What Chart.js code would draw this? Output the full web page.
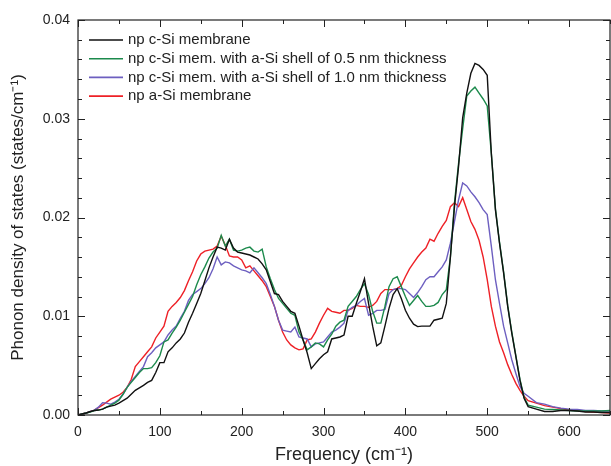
<!DOCTYPE html>
<html>
<head>
<meta charset="utf-8">
<script src="https://cdn.jsdelivr.net/npm/chart.js@4.4.1/dist/chart.umd.min.js"></script>
<style>
  html, body { margin: 0; padding: 0; background: #fff; }
  #wrap { width: 611px; height: 466px; }
</style>
</head>
<body>
<div id="wrap"><canvas id="dos" width="611" height="466"></canvas></div>
<script>
// Frequency grid (cm^-1)
const FREQ = [
  0, 5, 10, 15, 20, 25, 30, 35, 40, 45, 50, 55, 60, 65, 70, 75, 80, 85, 90, 95,
  100, 105, 110, 115, 120, 125, 130, 135, 140, 145, 150, 155, 160, 165, 170, 175, 180, 185, 190, 195,
  200, 205, 210, 215, 220, 225, 230, 235, 240, 245, 250, 255, 260, 265, 270, 275, 280, 285, 290, 295,
  300, 305, 310, 315, 320, 325, 330, 335, 340, 345, 350, 355, 360, 365, 370, 375, 380, 385, 390, 395,
  400, 405, 410, 415, 420, 425, 430, 435, 440, 445, 450, 455, 460, 465, 470, 475, 480, 485, 490, 495,
  500, 505, 510, 515, 520, 525, 530, 535, 540, 545, 550,
  560, 570, 580, 590, 600, 610, 620, 630, 640, 650
];

// np c-Si membrane
const C_SI = [
  0, 0.0001, 0.0002, 0.00035, 0.00045, 0.0005, 0.0006, 0.0008, 0.0009, 0.001, 0.0012, 0.00145, 0.0017, 0.0021, 0.0025, 0.00275, 0.003, 0.0033, 0.0035, 0.0043,
  0.0053, 0.0053, 0.0064, 0.0068, 0.0073, 0.0077, 0.0083, 0.0094, 0.0103, 0.0113, 0.0123, 0.0136, 0.0149, 0.016, 0.017, 0.0169, 0.0167, 0.0178, 0.0169, 0.0165,
  0.0164, 0.0163, 0.0162, 0.016, 0.0158, 0.0153, 0.0147, 0.0135, 0.0123, 0.0122, 0.0115, 0.011, 0.0105, 0.0103, 0.009, 0.0076, 0.0063, 0.0047, 0.0052, 0.0057,
  0.0061, 0.0064, 0.0077, 0.0078, 0.0079, 0.0081, 0.01, 0.01, 0.0113, 0.0125, 0.0138, 0.0113, 0.009, 0.007, 0.0073, 0.009, 0.0108, 0.0122, 0.0128, 0.0118,
  0.0106, 0.0098, 0.0092, 0.00895, 0.009, 0.009, 0.009, 0.0096, 0.0097, 0.0098, 0.0113, 0.016, 0.0211, 0.0252, 0.0301, 0.0326, 0.0346, 0.0356, 0.0354, 0.035,
  0.0344, 0.0265, 0.0208, 0.0174, 0.0144, 0.011, 0.0083, 0.0059, 0.0035, 0.0017, 0.00085,
  0.0006, 0.00035, 0.00035, 0.00045, 0.00045, 0.0004, 0.0003, 0.0003, 0.00025, 0.00025
];

// np c-Si mem. with a-Si shell of 0.5 nm thickness
const SHELL_05 = [
  0, 0.0001, 0.0002, 0.0003, 0.00045, 0.0005, 0.0006, 0.0008, 0.001, 0.0012, 0.0015, 0.0021, 0.0028, 0.0033, 0.0038, 0.0043, 0.0047, 0.0047, 0.0048, 0.0053,
  0.006, 0.0074, 0.0076, 0.0083, 0.0089, 0.0096, 0.0104, 0.0112, 0.012, 0.0132, 0.0142, 0.015, 0.0159, 0.0165, 0.0169, 0.0182, 0.0171, 0.0178, 0.0167, 0.0166,
  0.0167, 0.0169, 0.017, 0.0166, 0.0165, 0.0168, 0.015, 0.0138, 0.0127, 0.0118, 0.0113, 0.0108, 0.0103, 0.0101, 0.0084, 0.0076, 0.0066, 0.0069, 0.0073, 0.0072,
  0.0069, 0.0076, 0.0082, 0.009, 0.0094, 0.0096, 0.011, 0.0115, 0.012, 0.0127, 0.0133, 0.0122, 0.0105, 0.0093, 0.0093, 0.011, 0.013, 0.0138, 0.014, 0.013,
  0.012, 0.0111, 0.0116, 0.0121, 0.0115, 0.011, 0.011, 0.0111, 0.0114, 0.0122, 0.0127, 0.016, 0.0215, 0.0255, 0.029, 0.0323, 0.0328, 0.0332, 0.0326, 0.032,
  0.0313, 0.0265, 0.0209, 0.0175, 0.0145, 0.0111, 0.0084, 0.006, 0.0036, 0.0018, 0.001,
  0.0008, 0.0006, 0.00055, 0.0005, 0.00045, 0.0004, 0.0004, 0.0004, 0.0004, 0.00045
];

// np c-Si mem. with a-Si shell of 1.0 nm thickness
const SHELL_10 = [
  0, 0.0001, 0.0002, 0.00035, 0.0005, 0.0008, 0.00125, 0.0012, 0.0011, 0.0013, 0.0016, 0.0021, 0.0028, 0.0034, 0.0039, 0.0044, 0.0049, 0.0059, 0.0063, 0.0068,
  0.0071, 0.0074, 0.0081, 0.0086, 0.009, 0.0098, 0.0105, 0.0116, 0.0122, 0.0125, 0.0128, 0.0133, 0.0139, 0.0148, 0.016, 0.0152, 0.0155, 0.0154, 0.0151, 0.0149,
  0.0147, 0.0146, 0.0144, 0.0149, 0.0144, 0.0139, 0.0133, 0.0122, 0.011, 0.0096, 0.0086, 0.0085, 0.0084, 0.0089, 0.0079, 0.0078, 0.0077, 0.0069, 0.0072, 0.0073,
  0.0074, 0.0079, 0.0084, 0.0086, 0.0089, 0.0093, 0.0106, 0.0109, 0.0111, 0.0115, 0.0118, 0.0101, 0.0103, 0.0106, 0.0106, 0.0107, 0.0123, 0.0127, 0.0128, 0.0128,
  0.0127, 0.0123, 0.0119, 0.0124, 0.013, 0.0137, 0.014, 0.014, 0.0145, 0.015, 0.0157, 0.0174, 0.0196, 0.0218, 0.0235, 0.0232, 0.0226, 0.0221, 0.0215, 0.0208,
  0.0203, 0.0171, 0.0137, 0.0113, 0.009, 0.0073, 0.0056, 0.0042, 0.0029, 0.0022, 0.0019,
  0.00125, 0.0011, 0.00085, 0.0007, 0.0006, 0.00055, 0.00045, 0.00045, 0.0004, 0.0004
];

// np a-Si membrane
const A_SI = [
  0, 0.0001, 0.0002, 0.00035, 0.0005, 0.00075, 0.001, 0.0013, 0.0016, 0.0018, 0.002, 0.0023, 0.0028, 0.0036, 0.0049, 0.0054, 0.0059, 0.0064, 0.0069, 0.0078,
  0.0084, 0.009, 0.0105, 0.011, 0.0114, 0.0119, 0.0126, 0.0136, 0.0145, 0.0156, 0.0163, 0.0166, 0.0167, 0.0168, 0.0171, 0.0181, 0.0172, 0.0161, 0.016, 0.016,
  0.0157, 0.0149, 0.0151, 0.0146, 0.0141, 0.0136, 0.013, 0.012, 0.011, 0.0096, 0.0084, 0.0076, 0.0071, 0.0068, 0.0066, 0.0067, 0.0076, 0.0077, 0.0084, 0.0093,
  0.0101, 0.0108, 0.0105, 0.0104, 0.0103, 0.0106, 0.0106, 0.0108, 0.0111, 0.011, 0.011, 0.0109, 0.0111, 0.0115, 0.0123, 0.0127, 0.0127, 0.0127, 0.0128, 0.0131,
  0.014, 0.0148, 0.0154, 0.016, 0.0165, 0.0169, 0.0178, 0.0176, 0.0184, 0.0191, 0.0197, 0.0211, 0.0215, 0.0211, 0.022, 0.0208, 0.0196, 0.0188, 0.0177, 0.016,
  0.0137, 0.011, 0.009, 0.0074, 0.0063, 0.0051, 0.0041, 0.0032, 0.0025, 0.0019, 0.00145,
  0.0012, 0.00095, 0.0008, 0.00065, 0.0005, 0.00045, 0.00035, 0.0003, 0.00025, 0.0002
];

const LABELS = [
  "np c-Si membrane",
  "np c-Si mem. with a-Si shell of 0.5 nm thickness",
  "np c-Si mem. with a-Si shell of 1.0 nm thickness",
  "np a-Si membrane"
];
const COLORS = ["#111111", "#1c8a4c", "#6d5fc0", "#ee2026"];

const X_TICKS = [0, 100, 200, 300, 400, 500, 600];
const Y_TICKS = [0.00, 0.01, 0.02, 0.03, 0.04];

const FONT = "'Liberation Sans', Arial, sans-serif";
const INK = "#222";

function points(values) {
  return FREQ.map((f, i) => ({ x: f, y: values[i] }));
}

// inward ticks on all four sides + frame
const framePlugin = {
  id: 'frame',
  afterDatasetsDraw(chart) {
    const { ctx, chartArea: a, scales: { x, y } } = chart;
    ctx.save();
    ctx.strokeStyle = INK;
    ctx.lineWidth = 1.2;
    ctx.strokeRect(a.left, a.top, a.right - a.left, a.bottom - a.top);
    ctx.lineWidth = 1;
    ctx.beginPath();
    for (let v = 0; v <= 650; v += 50) {
      const px = Math.round(x.getPixelForValue(v)) + 0.5;
      const len = v % 100 === 0 ? 7 : 4;
      ctx.moveTo(px, a.bottom); ctx.lineTo(px, a.bottom - len);
      ctx.moveTo(px, a.top); ctx.lineTo(px, a.top + len);
    }
    for (let k = 0; k <= 20; k++) {
      const py = Math.round(y.getPixelForValue(k * 0.002)) + 0.5;
      const len = k % 5 === 0 ? 7 : 4;
      ctx.moveTo(a.left, py); ctx.lineTo(a.left + len, py);
      ctx.moveTo(a.right, py); ctx.lineTo(a.right - len, py);
    }
    ctx.stroke();
    ctx.restore();
  }
};

// legend drawn inside the plot, top-left
const legendPlugin = {
  id: 'insideLegend',
  afterDraw(chart) {
    const { ctx } = chart;
    ctx.save();
    ctx.font = "15px " + FONT;
    ctx.textBaseline = 'middle';
    ctx.fillStyle = INK;
    chart.data.datasets.forEach((ds, i) => {
      const yy = 40 + i * 18.7;
      ctx.strokeStyle = ds.borderColor;
      ctx.lineWidth = 1.6;
      ctx.beginPath();
      ctx.moveTo(89, yy); ctx.lineTo(123, yy);
      ctx.stroke();
      ctx.fillText(ds.label, 128, yy);
    });
    ctx.restore();
  }
};

const series = [C_SI, SHELL_05, SHELL_10, A_SI];

new Chart(document.getElementById('dos'), {
  type: 'line',
  data: {
    datasets: series.map((s, i) => ({
      label: LABELS[i],
      data: points(s),
      borderColor: COLORS[i],
      borderWidth: 1.4,
      pointRadius: 0,
      tension: 0,
      fill: false
    }))
  },
  options: {
    responsive: false,
    animation: false,
    devicePixelRatio: 1,
    layout: { padding: { top: 20, right: 1, left: 0, bottom: 0 } },
    plugins: { legend: { display: false }, tooltip: { enabled: false } },
    scales: {
      x: {
        type: 'linear',
        min: 0, max: 650,
        afterBuildTicks: s => { s.ticks = X_TICKS.map(v => ({ value: v })); },
        ticks: { color: INK, font: { family: FONT, size: 14 }, padding: 9, maxRotation: 0,
                 callback: v => String(v) },
        grid: { display: false, drawTicks: false },
        border: { display: false },
        title: { display: true, text: 'Frequency (cm\u207B\u00B9)', color: INK,
                 font: { family: FONT, size: 18 }, padding: { top: 0, bottom: 0 } },
        afterFit: s => { s.height = 51; }
      },
      y: {
        min: 0, max: 0.04,
        afterBuildTicks: s => { s.ticks = Y_TICKS.map(v => ({ value: v })); },
        ticks: { color: INK, font: { family: FONT, size: 14 }, padding: 8,
                 callback: v => v.toFixed(2) },
        grid: { display: false, drawTicks: false },
        border: { display: false },
        title: { display: true, text: 'Phonon density of states (states/cm\u207B\u00B9)', color: INK,
                 font: { family: FONT, size: 17 }, padding: { top: 8, bottom: 0 } },
        afterFit: s => { s.width = 78; }
      }
    }
  },
  plugins: [framePlugin, legendPlugin]
});
</script>
</body>
</html>
